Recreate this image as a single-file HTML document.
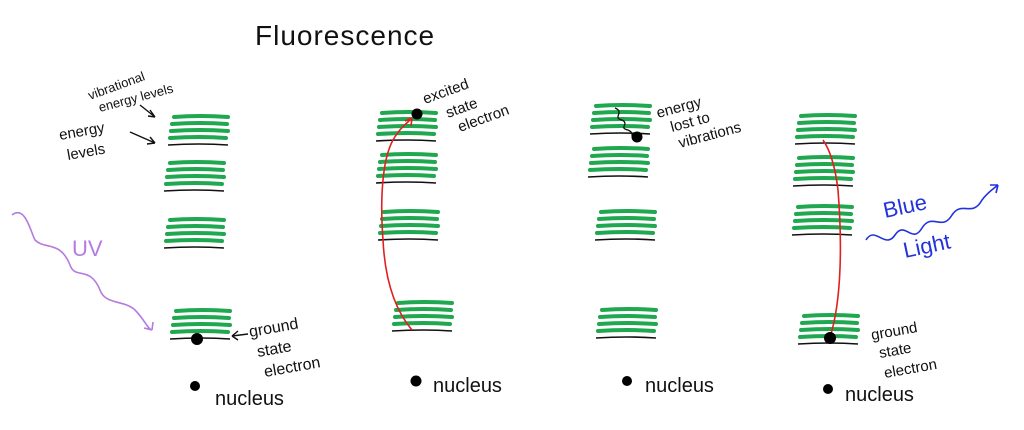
<!DOCTYPE html>
<html><head><meta charset="utf-8"><style>
html,body{margin:0;padding:0;background:#fff;}
svg{display:block;}
text{font-family:"Liberation Sans",sans-serif;fill:#111;}
</style></head><body>
<svg width="1024" height="430" viewBox="0 0 1024 430" xmlns="http://www.w3.org/2000/svg">
<defs>
<g id="st">
<path d="M4 0 Q30 -2 58 0" stroke="#1fa84f" stroke-width="4" fill="none" stroke-linecap="round"/>
<path d="M2 7 Q30 5 57 7" stroke="#1fa84f" stroke-width="4" fill="none" stroke-linecap="round"/>
<path d="M1 14 Q30 12 58 14" stroke="#1fa84f" stroke-width="4" fill="none" stroke-linecap="round"/>
<path d="M0 21 Q30 19 56 21" stroke="#1fa84f" stroke-width="4" fill="none" stroke-linecap="round"/>
<path d="M-2 28 Q30 26 58 28" stroke="#111" stroke-width="1.6" fill="none"/>
</g>
</defs>
<text x="255" y="45" font-size="28" font-weight="300" letter-spacing="1">Fluorescence</text>

<!-- column 1 -->
<use href="#st" x="170" y="117"/>
<use href="#st" x="166" y="163"/>
<use href="#st" x="166" y="220"/>
<use href="#st" x="172" y="311"/>
<circle cx="197" cy="339" r="6" fill="#000"/>
<circle cx="195" cy="386" r="5" fill="#000"/>
<text x="215" y="405" font-size="20">nucleus</text>
<text x="90" y="100" font-size="13" transform="rotate(-20 90 100)">vibrational</text>
<text x="100" y="112" font-size="13" transform="rotate(-15 100 112)">energy levels</text>
<text x="60" y="140" font-size="15" transform="rotate(-10 60 140)">energy</text>
<text x="68" y="160" font-size="15" transform="rotate(-10 68 160)">levels</text>
<path d="M140 105 L155 117 M155 117 L150 110 M155 117 L148 116" stroke="#111" stroke-width="1.4" fill="none"/>
<path d="M130 132 L155 143 M155 143 L150 137 M155 143 L147 144" stroke="#111" stroke-width="1.4" fill="none"/>
<path d="M12 215 C25 205 30 230 35 240 C45 250 60 240 70 265 C75 280 90 265 100 290 C105 305 125 300 135 310 C145 320 148 330 152 330 M152 330 L144 328 M152 330 L153 322" stroke="#b57be0" stroke-width="1.6" fill="none"/>
<text x="72" y="256" font-size="22" fill="#b57be0" style="fill:#b57be0">UV</text>
<path d="M248 334 L232 336 M232 336 L238 331 M232 336 L238 340" stroke="#111" stroke-width="1.4" fill="none"/>
<text x="250" y="337" font-size="16" transform="rotate(-10 250 337)">ground</text>
<text x="258" y="357" font-size="16" transform="rotate(-10 258 357)">state</text>
<text x="265" y="377" font-size="16" transform="rotate(-10 265 377)">electron</text>

<!-- column 2 -->
<use href="#st" x="378" y="113"/>
<use href="#st" x="378" y="155"/>
<use href="#st" x="380" y="212"/>
<use href="#st" x="394" y="303"/>
<path d="M412 330 C395 310 385 280 383 240 C380 200 382 160 393 140 C400 128 405 125 412 118" stroke="#e02020" stroke-width="1.6" fill="none"/>
<path d="M412 118 L405 121 M412 118 L411 126" stroke="#e02020" stroke-width="1.6"/>
<circle cx="417" cy="114" r="5.5" fill="#000"/>
<circle cx="416" cy="381" r="5.5" fill="#000"/>
<text x="433" y="392" font-size="20">nucleus</text>
<text x="425" y="104" font-size="15" transform="rotate(-20 425 104)">excited</text>
<text x="448" y="118" font-size="15" transform="rotate(-20 448 118)">state</text>
<text x="460" y="132" font-size="15" transform="rotate(-20 460 132)">electron</text>

<!-- column 3 -->
<use href="#st" x="592" y="106"/>
<use href="#st" x="590" y="149"/>
<use href="#st" x="597" y="212"/>
<use href="#st" x="598" y="310"/>
<path d="M615 108 C625 112 612 118 622 120 C630 124 618 128 628 130 C636 134 628 136 636 138" stroke="#111" stroke-width="1.3" fill="none"/>
<circle cx="637" cy="137" r="5.5" fill="#000"/>
<circle cx="627" cy="381" r="5" fill="#000"/>
<text x="645" y="392" font-size="20">nucleus</text>
<text x="658" y="118" font-size="15" transform="rotate(-15 658 118)">energy</text>
<text x="672" y="132" font-size="15" transform="rotate(-15 672 132)">lost to</text>
<text x="680" y="148" font-size="15" transform="rotate(-15 680 148)">vibrations</text>

<!-- column 4 -->
<use href="#st" x="797" y="116"/>
<use href="#st" x="795" y="158"/>
<use href="#st" x="794" y="207"/>
<use href="#st" x="800" y="316"/>
<path d="M830 337 C842 300 842 240 838 190 C835 165 830 150 823 140" stroke="#e02020" stroke-width="1.6" fill="none"/>
<circle cx="830" cy="338" r="6" fill="#000"/>
<circle cx="828" cy="389" r="5" fill="#000"/>
<text x="845" y="401" font-size="20">nucleus</text>
<text x="872" y="340" font-size="15" transform="rotate(-10 872 340)">ground</text>
<text x="880" y="358" font-size="15" transform="rotate(-10 880 358)">state</text>
<text x="885" y="378" font-size="15" transform="rotate(-10 885 378)">electron</text>
<path d="M866 240 C875 225 885 250 895 235 C905 220 912 245 922 228 C932 212 942 232 952 215 C962 200 972 218 982 200 C988 192 992 190 998 185 M998 185 L990 185 M998 185 L996 193" stroke="#2233dd" stroke-width="1.6" fill="none"/>
<text x="885" y="218" font-size="22" transform="rotate(-12 885 218)" style="fill:#2233dd">Blue</text>
<text x="905" y="258" font-size="22" transform="rotate(-12 905 258)" style="fill:#2233dd">Light</text>
</svg>
</body></html>
